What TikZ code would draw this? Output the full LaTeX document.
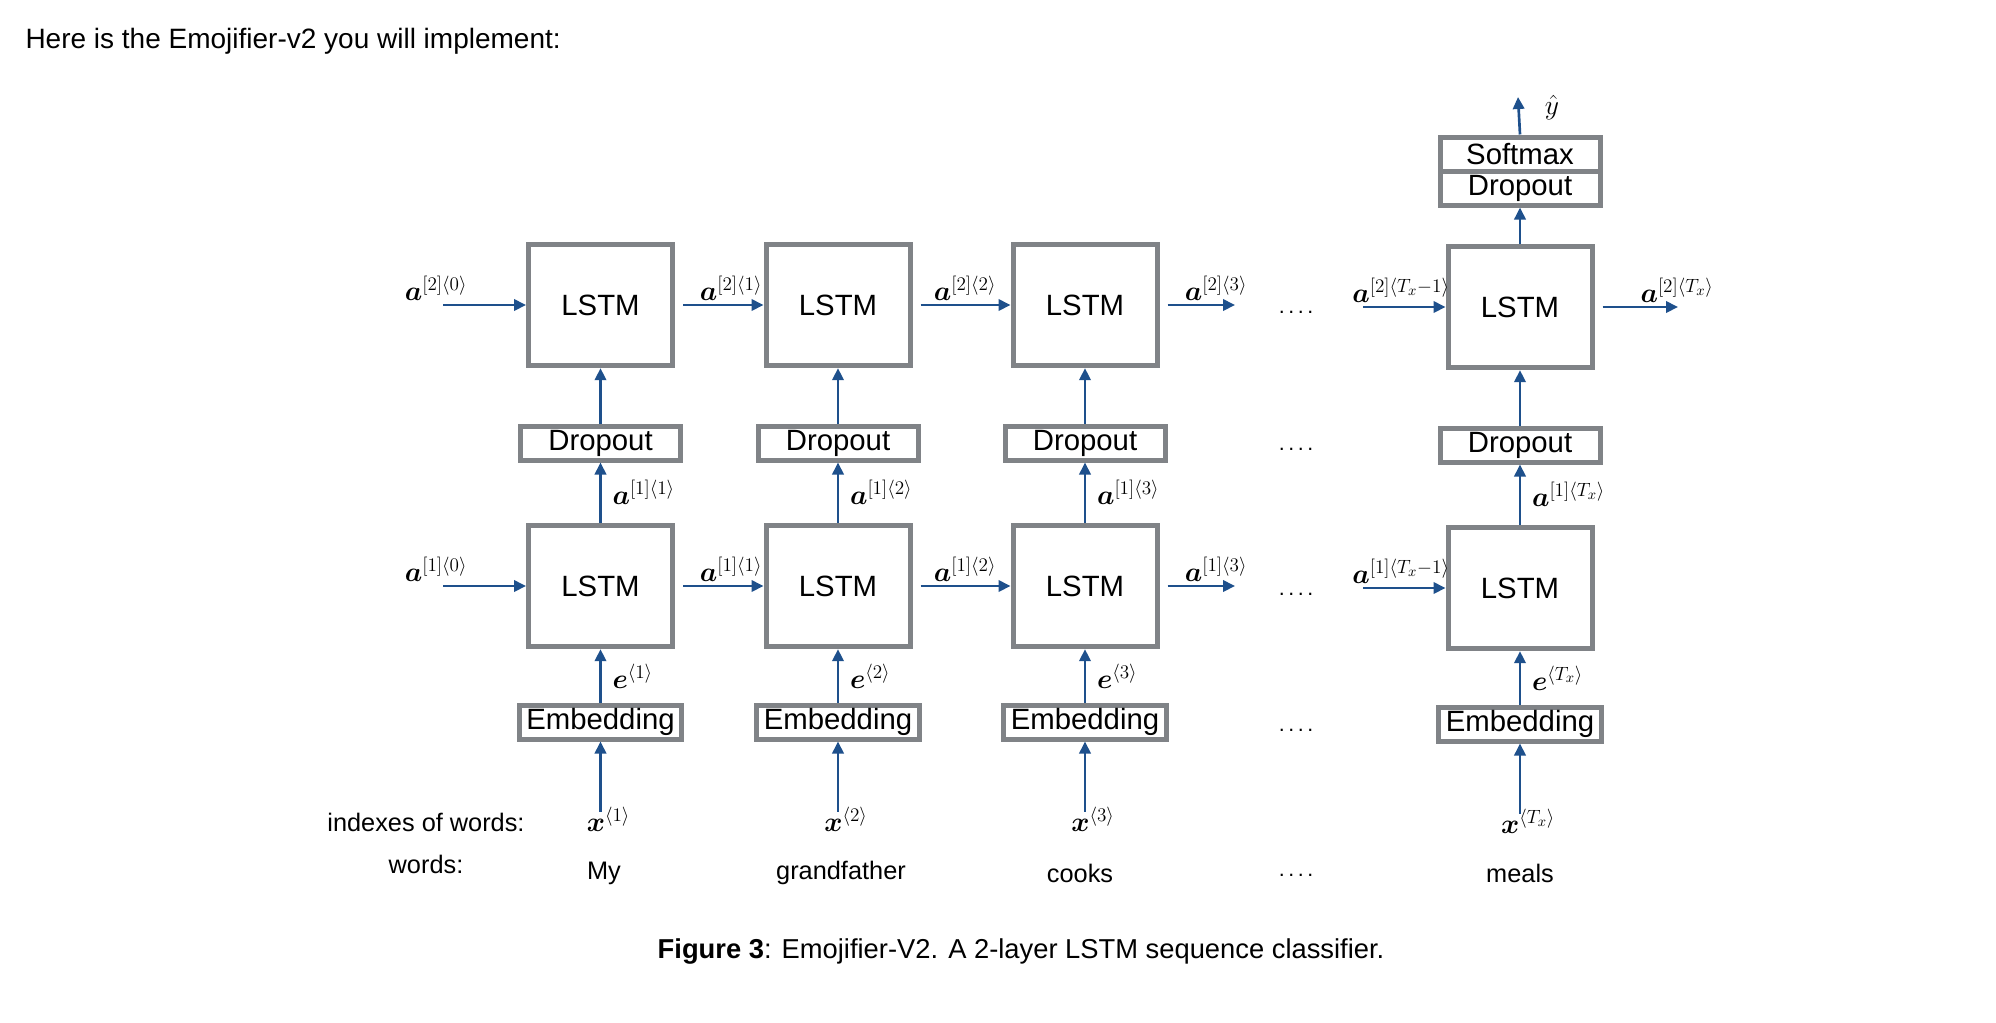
\documentclass[tikz,border=0pt]{standalone}
\usepackage{amsmath}
\usepackage{fontspec}
\setmainfont{Liberation Sans}
\usetikzlibrary{arrows.meta,positioning}

\definecolor{flowblue}{RGB}{30,80,140}
\definecolor{boxgray}{RGB}{128,131,135}

\tikzset{every picture/.style={line width=0.75pt}}
\tikzset{
  lstm/.style={draw=boxgray, line width=3.75pt, minimum width=108pt, minimum height=91pt, inner sep=0pt, font=\fontsize{22}{26}\selectfont},
  layer/.style={draw=boxgray, line width=3.75pt, minimum width=120pt, minimum height=25.5pt, inner sep=0pt, font=\fontsize{22}{26}\selectfont},
  flow/.style={draw=flowblue, line width=2pt, -{Triangle[length=9pt,width=8.5pt]}},
  mlabel/.style={inner sep=0pt, font=\fontsize{21}{25}\selectfont},
  wordlbl/.style={inner sep=0pt, font=\fontsize{19}{23}\selectfont},
  gapdots/.style={inner sep=0pt, anchor=base, font=\fontsize{16}{20}\selectfont}
}

\begin{document}
\begin{tikzpicture}[x=0.75pt,y=0.75pt,yscale=-1,xscale=1]
	\useasboundingbox (0,0) rectangle (1996,1022);

	% Text Node
	\draw (25,41) node[anchor=west, inner sep=0pt, font=\fontsize{21}{25}\selectfont]  {Here is the Emojifier-v2 you will implement:};

	%Columns of the network
	\foreach \i/\x/\d/\t in {1/600.5/0/1, 2/838/0/2, 3/1085/0/3, 4/1520/2/T_x} {
		\node[lstm] (top\i) at (\x,305+\d) {LSTM};
		\node[lstm] (bot\i) at (\x,586+\d) {LSTM};
		\node[layer] (drop\i) at (\x,443+\d) {Dropout};
		\node[layer, minimum width=122pt] (emb\i) at (\x,722+\d) {Embedding};
		\node[mlabel] (xidx\i) at (\x+8,819+\d) {$\boldsymbol{x}^{\langle \t \rangle}$};
		\draw[flow] ([yshift=4pt]xidx\i.north -| emb\i.south) -- (emb\i.south);
		\draw[flow] (emb\i) -- (bot\i) node[midway, right=8pt, mlabel] {$\boldsymbol{e}^{\langle \t \rangle}$};
		\draw[flow] (bot\i) -- (drop\i) node[midway, right=8pt, mlabel] {$\boldsymbol{a}^{[1]\langle \t \rangle}$};
		\draw[flow] (drop\i) -- (top\i);
	}

	%Shape: Dropout and Softmax on top
	\node[layer, outer sep=0pt] (dropT) at (1520,188) {Dropout};
	\node[layer, outer sep=0pt, anchor=south] (soft) at (dropT.north) {Softmax};
	\draw[flow] (top4) -- ([yshift=1.9pt]dropT.south);
	\coordinate (yout) at (1518,97);
	\draw[flow] ([yshift=-1.9pt]soft.north) -- (yout);
	% Text Node
	\draw (1552,108) node[mlabel] (yhat) {$\hat{y}$};

	%Second layer, horizontal arrows
	\coordinate (inA2) at (443,305);
	\coordinate (outA2) at (1235,305);
	\coordinate (inT2) at (1363,307);
	\coordinate (outT2) at (1678,307);
	\draw[flow] (inA2) -- (top1.west);
	\draw[flow] ([xshift=6pt]top1.east) -- (top2.west);
	\draw[flow] ([xshift=6pt]top2.east) -- (top3.west);
	\draw[flow] ([xshift=6pt]top3.east) -- (outA2);
	\draw[flow] (inT2) -- (top4.west);
	\draw[flow] ([xshift=6pt]top4.east) -- (outT2);

	%First layer, horizontal arrows
	\coordinate (inA1) at (443,586);
	\coordinate (outA1) at (1235,586);
	\coordinate (inT1) at (1363,588);
	\draw[flow] (inA1) -- (bot1.west);
	\draw[flow] ([xshift=6pt]bot1.east) -- (bot2.west);
	\draw[flow] ([xshift=6pt]bot2.east) -- (bot3.west);
	\draw[flow] ([xshift=6pt]bot3.east) -- (outA1);
	\draw[flow] (inT1) -- (bot4.west);

	% Text Node
	\draw (436,301) node[mlabel, anchor=south] (h20) {$\boldsymbol{a}^{[2]\langle 0\rangle}$};
	\draw (731,301) node[mlabel, anchor=south] (h21) {$\boldsymbol{a}^{[2]\langle 1\rangle}$};
	\draw (965,301) node[mlabel, anchor=south] (h22) {$\boldsymbol{a}^{[2]\langle 2\rangle}$};
	\draw (1216,301) node[mlabel, anchor=south] (h23) {$\boldsymbol{a}^{[2]\langle 3\rangle}$};
	\draw (1401,303) node[mlabel, anchor=south] (h2T1) {$\boldsymbol{a}^{[2]\langle T_x-1\rangle}$};
	\draw (1677,303) node[mlabel, anchor=south] (h2T) {$\boldsymbol{a}^{[2]\langle T_x\rangle}$};
	% Text Node
	\draw (436,582) node[mlabel, anchor=south] (h10) {$\boldsymbol{a}^{[1]\langle 0\rangle}$};
	\draw (731,582) node[mlabel, anchor=south] (h11) {$\boldsymbol{a}^{[1]\langle 1\rangle}$};
	\draw (965,582) node[mlabel, anchor=south] (h12) {$\boldsymbol{a}^{[1]\langle 2\rangle}$};
	\draw (1216,582) node[mlabel, anchor=south] (h13) {$\boldsymbol{a}^{[1]\langle 3\rangle}$};
	\draw (1401,584) node[mlabel, anchor=south] (h1T1) {$\boldsymbol{a}^{[1]\langle T_x-1\rangle}$};

	%Dots between the columns
	\foreach \y in {313,450,595,731,876} {
		\node[gapdots] (gap\y) at (1296,\y) {.\,.\,.\,.};
	}

	% Text Node
	\draw (426,822) node[wordlbl] (idxlbl) {indexes of words:};
	\draw (426,864) node[wordlbl] (wordslbl) {words:};
	\draw (604,873) node[wordlbl] (w1) {My};
	\draw (841,873) node[wordlbl] (w2) {grandfather};
	\draw (1080,873) node[wordlbl] (w3) {cooks};
	\draw (1520,873) node[wordlbl] (w4) {meals};

	% Text Node
	\draw (1021,951) node[font=\fontsize{20.5}{24}\selectfont] (caption) {\textbf{Figure 3}: Emojifier-V2. A 2-layer LSTM sequence classifier.};

\end{tikzpicture}
\end{document}
